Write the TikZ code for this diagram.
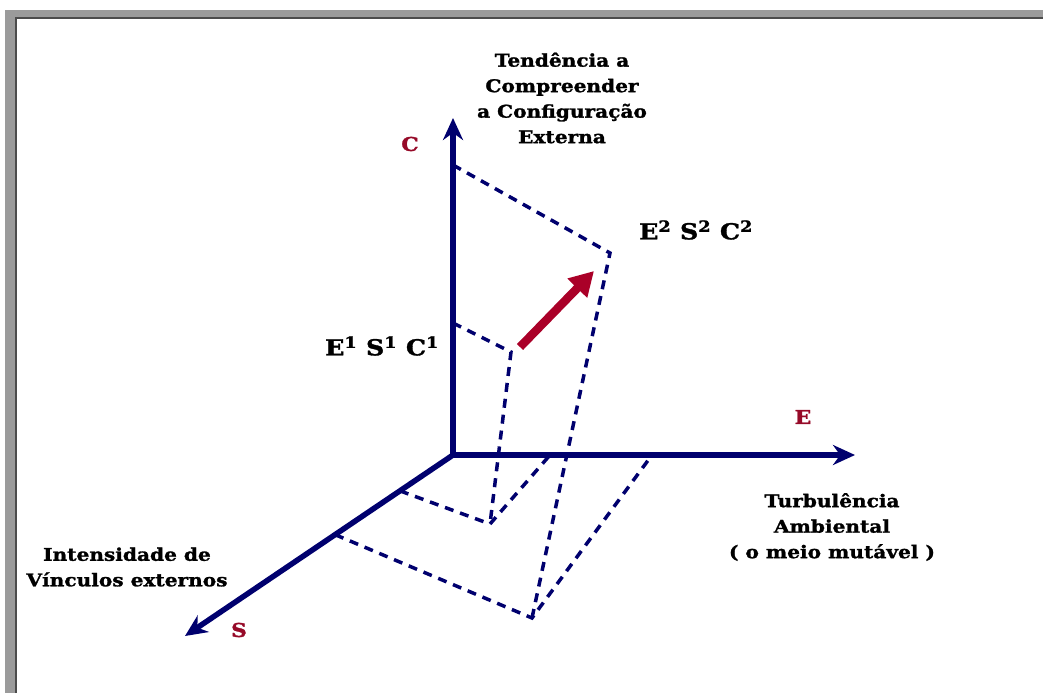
\documentclass[tikz,border=0pt]{standalone}
\usepackage{fontspec}
\setmainfont{DejaVu Serif}
\newfontfamily\wideserif[FakeStretch=1.15, BoldFeatures={FakeBold=1.5}]{DejaVu Serif}
\usetikzlibrary{arrows.meta, calc}
\definecolor{axisblue}{RGB}{0,0,110}
\definecolor{moveRed}{RGB}{170,0,40}
\definecolor{labelRed}{RGB}{150,10,40}
\definecolor{frameGray}{RGB}{155,155,155}

\begin{document}
\begin{tikzpicture}[x=1pt, y=-1pt, >=Stealth]

% --- Style Definitions ---
% Axes (dark blue, heavy)
\tikzstyle{axis_arrow}=[-{Stealth[length=22pt, width=20pt]}, line width=5.5pt, axisblue]
% Projection lines (dashed)
\tikzstyle{proj_line}=[line width=3.5pt, axisblue, dash pattern=on 9pt off 7pt]
% Movement arrow
\tikzstyle{move_arrow}=[-{Triangle[length=24pt, width=26pt]}, line width=8.5pt, moveRed]
% Texts
\tikzstyle{axis_label}=[text=labelRed, font=\wideserif\bfseries\fontsize{19}{22}\selectfont]
\tikzstyle{state_label}=[text=black, font=\wideserif\bfseries\fontsize{22}{25}\selectfont]
\tikzstyle{desc_text}=[text=black, align=center, font=\wideserif\bfseries\fontsize{17.5}{25.5}\selectfont]

\useasboundingbox (0,0) rectangle (1043,693);

% --- Frame ---
\fill[frameGray] (5,10) rectangle (1043,19);
\fill[frameGray] (5,10) rectangle (17,693);
\draw[black!70, line width=1.5pt] (16,693) -- (16,18) -- (1043,18);

% --- Axes end points ---
\coordinate (O) at (453,455);
\coordinate (C_tip) at (453,118);
\coordinate (E_tip) at (855,455);
\coordinate (S_tip) at (185,636);

% --- State 1 box ---
\coordinate (C1) at (453,323);
\coordinate (E1) at (550,455);
\coordinate (S1) at ($(O)!0.198!(S_tip)$);
\coordinate (P1) at (511,352);
\coordinate (Q1) at (490,524);

% --- State 2 box ---
\coordinate (C2) at (453,165);
\coordinate (E2) at (652,455);
\coordinate (S2) at ($(O)!0.44!(S_tip)$);
\coordinate (P2) at (610,253);
\coordinate (Q2) at (532,618);

\draw[proj_line] (C1) -- (P1) -- (Q1);
\draw[proj_line] (S1) -- (Q1) -- (E1);
\draw[proj_line] (C2) -- (P2) -- (Q2);
\draw[proj_line] (S2) -- (Q2) -- (E2);

% Draw axes
\draw[axis_arrow] (O) -- (C_tip);
\draw[axis_arrow] (O) -- (E_tip);
\draw[axis_arrow] (O) -- (S_tip);

% Change of state
\coordinate (move_start) at (520,347);
\coordinate (move_end) at (594,271);
\draw[move_arrow] (move_start) -- (move_end);

% --- Labels ---
\node[axis_label] (C_lab) at (410,144) {C};
\node[axis_label] (E_lab) at (803,417) {E};
\node[axis_label] (S_lab) at (239,630) {S};

\node[state_label] (state1) at (382,346) {E\textsuperscript{1} S\textsuperscript{1} C\textsuperscript{1}};
\node[state_label] (state2) at (696,230) {E\textsuperscript{2} S\textsuperscript{2} C\textsuperscript{2}};

\node[desc_text] (C_desc) at (562,98) {Tendência a\\Compreender\\a Configuração\\Externa};
\node[desc_text] (E_desc) at (832,527) {Turbulência\\Ambiental\\( o meio mutável )};
\node[desc_text] (S_desc) at (127,567) {Intensidade de\\Vínculos externos};

\end{tikzpicture}
\end{document}
